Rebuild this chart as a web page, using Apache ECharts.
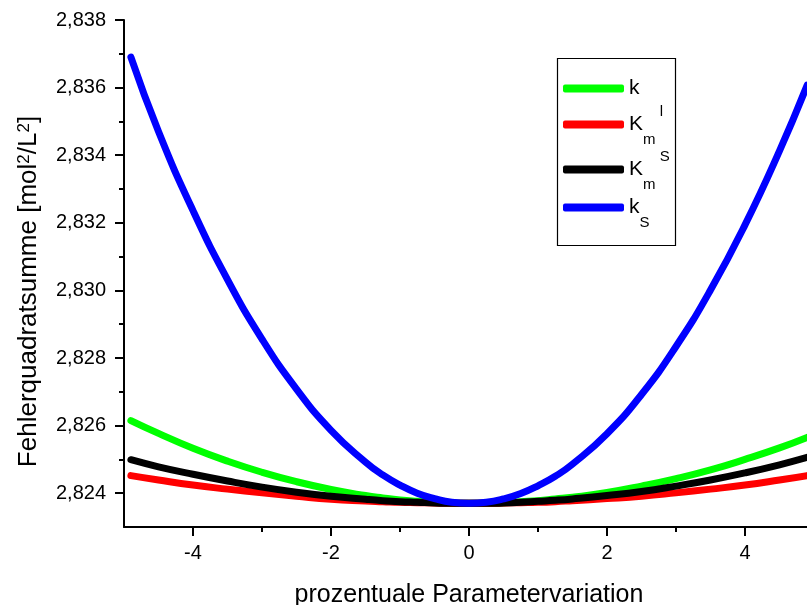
<!DOCTYPE html>
<html>
<head>
<meta charset="utf-8">
<script src="https://cdn.jsdelivr.net/npm/echarts@6/dist/echarts.min.js"></script>
<style>
  html, body { margin: 0; padding: 0; background: #fff; }
  #container { width: 807px; height: 605px; }
</style>
</head>
<body>
<div id="container"></div>
<script>
// x-Werte (prozentuale Parametervariation)
var xs = [-4.9, -4.5, -4, -3.5, -3, -2.5, -2, -1.5, -1.25, -1, -0.75, -0.5, -0.25, 0,
          0.25, 0.5, 0.75, 1, 1.25, 1.5, 2, 2.5, 3, 3.5, 4, 4.5, 4.9];
// Fehlerquadratsumme je Parameter
var kVals   = [2.82615, 2.82577, 2.82533, 2.82495, 2.82462, 2.82434, 2.82411, 2.82393, 2.82386, 2.82380, 2.82376, 2.82373, 2.82371, 2.82370,
               2.82370, 2.82372, 2.82375, 2.82378, 2.82383, 2.82388, 2.82402, 2.82421, 2.82443, 2.82469, 2.82500, 2.82534, 2.82565];
var kmlVals = [2.82452, 2.82439, 2.82424, 2.82412, 2.82401, 2.82391, 2.82382, 2.82377, 2.82375, 2.82373, 2.82372, 2.82371, 2.82370, 2.82370,
               2.82370, 2.82371, 2.82372, 2.82373, 2.82375, 2.82378, 2.82384, 2.82391, 2.82401, 2.82412, 2.82424, 2.82439, 2.82452];
var kmsVals = [2.82499, 2.82478, 2.82456, 2.82436, 2.82418, 2.82403, 2.82391, 2.82382, 2.82378, 2.82375, 2.82373, 2.82371, 2.82370, 2.82370,
               2.82370, 2.82371, 2.82373, 2.82376, 2.82379, 2.82383, 2.82393, 2.82405, 2.82421, 2.82439, 2.82460, 2.82484, 2.82506];
var ksVals  = [2.83690, 2.83470, 2.83236, 2.83032, 2.82856, 2.82708, 2.82586, 2.82492, 2.82454, 2.82424, 2.82400, 2.82384, 2.82373, 2.82370,
               2.82373, 2.82383, 2.82399, 2.82422, 2.82450, 2.82486, 2.82576, 2.82692, 2.82834, 2.83001, 2.83194, 2.83413, 2.83607];

var names = ['k', 'Km_l', 'Km_S', 'kS'];
var colors = ['#00ff00', '#ff0000', '#000000', '#0000ff'];
var yMajor = [2.824, 2.826, 2.828, 2.830, 2.832, 2.834, 2.836, 2.838];
var yMinor = [2.825, 2.827, 2.829, 2.831, 2.833, 2.835, 2.837];
var xMajor = [-4, -2, 0, 2, 4];
var xMinor = [-3, -1, 1, 3];

function pairs(v) {
  return xs.map(function (x, i) { return [x, v[i]]; });
}

var legendText = {
  'k': '{t|k}',
  'Km_l': '{t|K}{sub|m}{sup| l}',
  'Km_S': '{t|K}{sub|m}{sup| S}',
  'kS': '{t|k}{sub|S}'
};
var legendTops = [78, 104, 149, 197];

var font = 'Liberation Sans, Arial, sans-serif';

var myChart = echarts.init(document.getElementById('container'));
var option = {
  animation: false,
  color: colors,
  textStyle: { fontFamily: font },
  grid: { left: 124, top: 20, right: -7, bottom: 78, outerBoundsMode: 'none' },
  xAxis: [{
    type: 'value', min: -5, max: 5, interval: 1,
    name: 'prozentuale Parametervariation',
    nameLocation: 'middle', nameGap: 56, nameMoveOverlap: false,
    nameTextStyle: { fontSize: 25, color: '#000', fontFamily: font },
    axisLine: { onZero: false, lineStyle: { color: '#000', width: 2 } },
    axisTick: { customValues: xMajor, length: 9, lineStyle: { color: '#000', width: 2 } },
    axisLabel: { customValues: xMajor, margin: 16, fontSize: 20, color: '#000', fontFamily: font },
    splitLine: { show: false }
  }, {
    type: 'value', min: -5, max: 5, interval: 1, position: 'bottom',
    axisLine: { show: false, onZero: false },
    axisTick: { customValues: xMinor, length: 5, lineStyle: { color: '#000', width: 2 } },
    axisLabel: { show: false },
    splitLine: { show: false }
  }],
  yAxis: [{
    type: 'value', min: 2.823, max: 2.838, interval: 0.001,
    name: 'Fehlerquadratsumme [mol{sup|2}/L{sup|2}]',
    nameLocation: 'middle', nameGap: 82,
    nameTextStyle: {
      fontSize: 26, color: '#000', fontFamily: font,
      padding: [0, 36, 0, 0],
      rich: {
        sup: { fontSize: 17, color: '#000', verticalAlign: 'top', fontFamily: font }
      }
    },
    axisLine: { show: true, onZero: false, lineStyle: { color: '#000', width: 2 } },
    axisTick: { show: true, customValues: yMajor, length: 9, lineStyle: { color: '#000', width: 2 } },
    axisLabel: {
      customValues: yMajor, margin: 18, fontSize: 20, color: '#000', fontFamily: font,
      formatter: function (v) { return v.toFixed(3).replace('.', ','); }
    },
    splitLine: { show: false }
  }, {
    type: 'value', min: 2.823, max: 2.838, interval: 0.001, position: 'left',
    axisLine: { show: false, onZero: false },
    axisTick: { show: true, customValues: yMinor, length: 5, lineStyle: { color: '#000', width: 2 } },
    axisLabel: { show: false },
    splitLine: { show: false }
  }],
  legend: names.map(function (n, i) {
    return {
      data: [n],
      orient: 'vertical',
      left: 563, top: legendTops[i],
      icon: 'roundRect',
      itemWidth: 61, itemHeight: 8, itemGap: 0,
      padding: 0,
      selectedMode: false,
      formatter: function (name) { return legendText[name]; },
      textStyle: {
        rich: {
          t: { fontSize: 21, lineHeight: 50, color: '#000', fontFamily: font },
          sub: { fontSize: 15, color: '#000', padding: [30, 0, 0, 0], fontFamily: font },
          sup: { fontSize: 15, color: '#000', padding: [0, 0, 26, 0], fontFamily: font }
        }
      }
    };
  }),
  graphic: [{
    type: 'rect',
    shape: { x: 557.5, y: 58.5, width: 118, height: 187 },
    style: { fill: 'none', stroke: '#000', lineWidth: 1.2 },
    z: 100
  }],
  series: [kVals, kmlVals, kmsVals, ksVals].map(function (v, i) {
    return {
      name: names[i],
      type: 'line',
      smooth: true,
      showSymbol: false,
      data: pairs(v),
      lineStyle: { width: 7, color: colors[i], cap: 'round', join: 'round' },
      itemStyle: { color: colors[i] },
      z: 2 + i
    };
  })
};
myChart.setOption(option);
</script>
</body>
</html>
